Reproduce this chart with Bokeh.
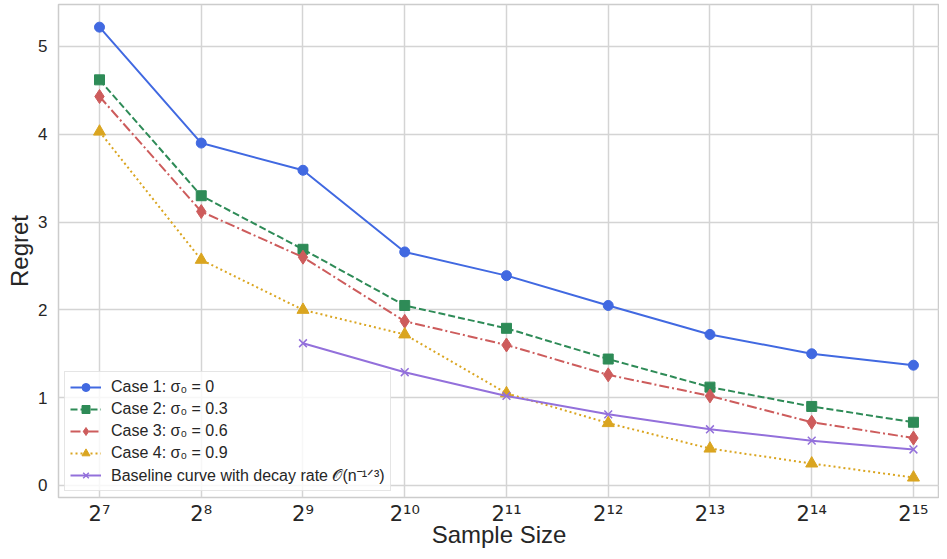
from bokeh.plotting import figure
from bokeh.models import Range1d, FixedTicker, Legend, LegendItem
from bokeh.embed import file_html
from bokeh.resources import INLINE

# ---- data ----
exps = [7, 8, 9, 10, 11, 12, 13, 14, 15]
tick_labels = ["2⁷", "2⁸", "2⁹", "2¹⁰", "2¹¹", "2¹²", "2¹³", "2¹⁴", "2¹⁵"]
case1 = [5.22, 3.90, 3.59, 2.66, 2.39, 2.05, 1.72, 1.50, 1.37]
case2 = [4.62, 3.30, 2.69, 2.05, 1.79, 1.44, 1.12, 0.90, 0.72]
case3 = [4.43, 3.12, 2.60, 1.87, 1.60, 1.26, 1.02, 0.72, 0.54]
case4 = [4.03, 2.57, 2.00, 1.72, 1.05, 0.71, 0.42, 0.25, 0.09]
base_exps = [9, 10, 11, 12, 13, 14, 15]
baseline = [1.62, 1.29, 1.02, 0.81, 0.64, 0.51, 0.41]
y_ticks = [0, 1, 2, 3, 4, 5]

labels = [
    "Case 1: σ₀ = 0",
    "Case 2: σ₀ = 0.3",
    "Case 3: σ₀ = 0.6",
    "Case 4: σ₀ = 0.9",
    "Baseline curve with decay rate 𝒪(n⁻¹ᐟ³)",
]

p = figure(width=939, height=551, output_backend="svg", toolbar_location=None,
           x_range=Range1d(6.597, 15.256), y_range=Range1d(-0.137, 5.478),
           min_border_left=58, min_border_right=0, min_border_top=4,
           min_border_bottom=54)

p.outline_line_color = "#cccccc"
p.outline_line_width = 1.5
p.background_fill_color = "white"
p.border_fill_color = "white"

for g in (p.xgrid[0], p.ygrid[0]):
    g.grid_line_color = "#d4d4d4"
    g.grid_line_width = 1.5

p.xaxis.ticker = FixedTicker(ticks=exps)
p.xaxis.major_label_overrides = {e: t for e, t in zip(exps, tick_labels)}
p.yaxis.ticker = FixedTicker(ticks=y_ticks)

for ax in (p.xaxis[0], p.yaxis[0]):
    ax.axis_line_color = None
    ax.major_tick_line_color = None
    ax.minor_tick_line_color = None
    ax.major_tick_out = 0
    ax.major_tick_in = 0
    ax.minor_tick_out = 0
    ax.minor_tick_in = 0
    ax.major_label_text_color = "#262626"
    ax.axis_label_text_color = "#262626"
    ax.axis_label_text_font = "Liberation Sans"
    ax.axis_label_text_font_size = "24px"
    ax.axis_label_text_font_style = "normal"

p.xaxis.major_label_text_font = "DejaVu Sans"
p.xaxis.major_label_text_font_size = "21px"
p.xaxis.major_label_standoff = 4
p.xaxis.axis_label_standoff = -8
p.xaxis.axis_label = "Sample Size"

p.yaxis.major_label_text_font = "Liberation Sans"
p.yaxis.major_label_text_font_size = "17px"
p.yaxis.major_label_standoff = 11
p.yaxis.axis_label_standoff = 2
p.yaxis.axis_label = "Regret"

items = []

c = "#4169E1"
l1 = p.line(exps, case1, line_color=c, line_width=2)
m1 = p.scatter(exps, case1, marker="circle", size=10, fill_color=c, line_color=c)
items.append(LegendItem(label=labels[0], renderers=[l1, m1]))

c = "#2E8B57"
l2 = p.line(exps, case2, line_color=c, line_width=2, line_dash="7 3")
m2 = p.scatter(exps, case2, marker="square", size=10, fill_color=c, line_color=c)
items.append(LegendItem(label=labels[1], renderers=[l2, m2]))

c = "#CD5C5C"
l3 = p.line(exps, case3, line_color=c, line_width=2, line_dash="10 3 2 3")
m3 = p.scatter(exps, case3, marker="diamond", size=14, fill_color=c, line_color=c)
items.append(LegendItem(label=labels[2], renderers=[l3, m3]))

c = "#DAA520"
l4 = p.line(exps, case4, line_color=c, line_width=2, line_dash="2 3")
m4 = p.scatter(exps, case4, marker="triangle", size=12, fill_color=c, line_color=c)
items.append(LegendItem(label=labels[3], renderers=[l4, m4]))

c = "#9370DB"
l5 = p.line(base_exps, baseline, line_color=c, line_width=2)
m5 = p.scatter(base_exps, baseline, marker="x", size=11, line_color=c, line_width=1.5)
items.append(LegendItem(label=labels[4], renderers=[l5, m5]))

legend = Legend(items=items, location="bottom_left")
legend.margin = 6
legend.padding = 5
legend.spacing = 2
legend.glyph_width = 31
legend.glyph_height = 20
legend.label_height = 20
legend.label_standoff = 10
legend.label_text_font = "Liberation Sans"
legend.label_text_font_size = "16px"
legend.label_text_color = "#262626"
legend.border_line_color = "#cccccc"
legend.border_line_width = 1
legend.background_fill_alpha = 0.8
p.add_layout(legend, "center")

open("out.html", "w").write(file_html(p, INLINE))
